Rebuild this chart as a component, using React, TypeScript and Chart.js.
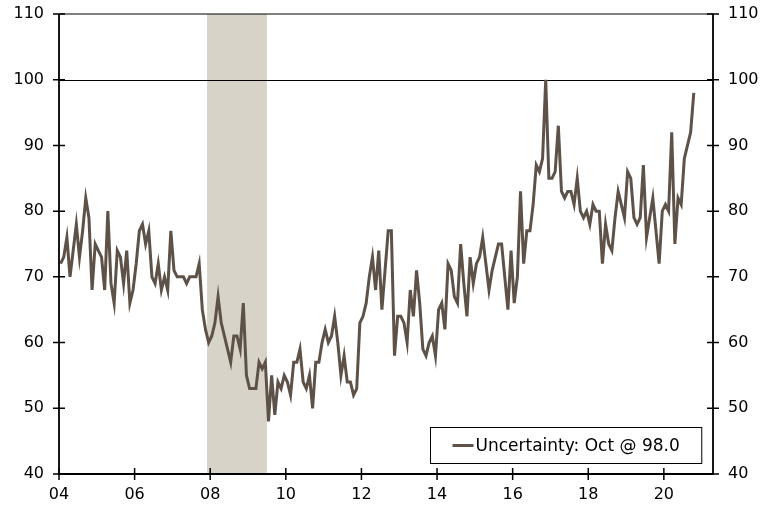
import { useEffect, useRef } from "react";
import { Chart, registerables } from "chart.js";

Chart.register(...registerables);

// ---- data ----
const startYear = 2004;
const seriesName = "Uncertainty: Oct @ 98.0";
const v2004 = [72, 73, 76, 70, 74, 78, 73, 77, 82, 79, 68, 75];
const v2005 = [74, 73, 68, 80, 69, 66, 74, 73, 69, 74, 66, 68];
const v2006 = [72, 77, 78, 75, 77, 70, 69, 72, 68, 70, 68, 77];
const v2007 = [71, 70, 70, 70, 69, 70, 70, 70, 72, 65, 62, 60];
const v2008 = [61, 63, 67, 63, 61, 59, 57, 61, 61, 59, 66, 55];
const v2009 = [53, 53, 53, 57, 56, 57, 48, 55, 49, 54, 53, 55];
const v2010 = [54, 52, 57, 57, 59, 54, 53, 55, 50, 57, 57, 60];
const v2011 = [62, 60, 61, 64, 60, 55, 58, 54, 54, 52, 53, 63];
const v2012 = [64, 66, 70, 73, 68, 74, 65, 71, 77, 77, 58, 64];
const v2013 = [64, 63, 60, 68, 64, 71, 66, 59, 58, 60, 61, 58];
const v2014 = [65, 66, 62, 72, 71, 67, 66, 75, 69, 64, 73, 69];
const v2015 = [72, 73, 76, 72, 68, 71, 73, 75, 75, 70, 65, 74];
const v2016 = [66, 70, 83, 72, 77, 77, 81, 87, 86, 88, 100, 85];
const v2017 = [85, 86, 93, 83, 82, 83, 83, 81, 85, 80, 79, 80];
const v2018 = [78, 81, 80, 80, 72, 78, 75, 74, 79, 83, 81, 79];
const v2019 = [86, 85, 79, 78, 79, 87, 76, 79, 82, 77, 72, 80];
const v2020 = [81, 80, 92, 75, 82, 81, 88, 90, 92, 98];

const xTickYears = [2004, 2006, 2008, 2010, 2012, 2014, 2016, 2018, 2020];
const xTickLabels = ["04", "06", "08", "10", "12", "14", "16", "18", "20"];
const yTicks = [40, 50, 60, 70, 80, 90, 100, 110];
const recessionStart = 2007 + 11 / 12;
const recessionEnd = 2009.5;
const referenceLevel = 100;
const xMax = 2021.3;

const allValues = [
  ...v2004, ...v2005, ...v2006, ...v2007, ...v2008, ...v2009, ...v2010, ...v2011,
  ...v2012, ...v2013, ...v2014, ...v2015, ...v2016, ...v2017, ...v2018, ...v2019, ...v2020,
];
const points = allValues.map((v, i) => ({ x: startYear + (i + 0.5) / 12, y: v }));

const LINE_COLOR = "#5e5248";
const FONT = "'DejaVu Sans', sans-serif";

const framePlugin = {
  id: "framePlugin",
  beforeDatasetsDraw(chart: any) {
    const { ctx, chartArea, scales } = chart;
    const { left, right, top, bottom } = chartArea;
    const x = scales.x;
    const y = scales.y;
    ctx.save();
    const x0 = x.getPixelForValue(recessionStart);
    const x1 = x.getPixelForValue(recessionEnd);
    ctx.fillStyle = "#d7d3c8";
    ctx.fillRect(x0, top, x1 - x0, bottom - top);
    const y100 = Math.round(y.getPixelForValue(referenceLevel)) + 0.5;
    ctx.strokeStyle = "#000";
    ctx.lineWidth = 1.2;
    ctx.beginPath();
    ctx.moveTo(left, y100);
    ctx.lineTo(right, y100);
    ctx.stroke();
    ctx.restore();
  },
  afterDatasetsDraw(chart: any) {
    const { ctx, chartArea, scales } = chart;
    const { left, right, top, bottom } = chartArea;
    const x = scales.x;
    const y = scales.y;
    ctx.save();
    ctx.strokeStyle = "#000";
    // top line
    ctx.lineWidth = 1.2;
    ctx.beginPath();
    ctx.moveTo(left, top);
    ctx.lineTo(right, top);
    ctx.stroke();
    // axes
    ctx.lineWidth = 1.8;
    ctx.beginPath();
    ctx.moveTo(left, top);
    ctx.lineTo(left, bottom);
    ctx.lineTo(right, bottom);
    ctx.lineTo(right, top);
    ctx.stroke();
    // ticks (crossing the axes)
    ctx.lineWidth = 1.5;
    ctx.beginPath();
    for (const t of yTicks) {
      const py = y.getPixelForValue(t);
      ctx.moveTo(left - 6, py);
      ctx.lineTo(left + 6, py);
      ctx.moveTo(right - 6, py);
      ctx.lineTo(right + 6, py);
    }
    for (const t of xTickYears) {
      const px = x.getPixelForValue(t);
      ctx.moveTo(px, bottom - 6);
      ctx.lineTo(px, bottom + 6);
    }
    ctx.stroke();

    // legend box
    ctx.font = `17px ${FONT}`;
    const tw = ctx.measureText(seriesName).width;
    const padL = 22;
    const iconW = 21;
    const gap = 2;
    const padR = 22;
    const boxW = padL + iconW + gap + tw + padR;
    const boxH = 36;
    const bx = Math.round(right - 12 - boxW) + 0.5;
    const by = Math.round(bottom - 11 - boxH) + 0.5;
    ctx.fillStyle = "#fff";
    ctx.fillRect(bx, by, boxW, boxH);
    ctx.lineWidth = 1;
    ctx.strokeRect(bx, by, boxW, boxH);
    const cy = by + boxH / 2;
    ctx.strokeStyle = LINE_COLOR;
    ctx.lineWidth = 3;
    ctx.beginPath();
    ctx.moveTo(bx + padL, cy);
    ctx.lineTo(bx + padL + iconW, cy);
    ctx.stroke();
    ctx.fillStyle = "#000";
    ctx.textBaseline = "middle";
    ctx.textAlign = "left";
    ctx.fillText(seriesName, bx + padL + iconW + gap, cy + 1);
    ctx.restore();
  },
};

export default function App() {
  const ref = useRef<HTMLCanvasElement | null>(null);
  useEffect(() => {
    if (!ref.current) return;
    const tickFont = { family: FONT, size: 16 };
    const fitY = (w: number) => (scale: any) => {
      scale.width = w;
      scale.paddingTop = 0;
      scale.paddingBottom = 0;
    };
    const chart = new Chart(ref.current, {
      type: "line",
      data: {
        datasets: [
          {
            label: seriesName,
            data: points,
            borderColor: LINE_COLOR,
            borderWidth: 3,
            pointRadius: 0,
            tension: 0,
            fill: false,
          },
        ],
      },
      options: {
        animation: false,
        responsive: true,
        maintainAspectRatio: false,
        layout: { padding: { top: 14, left: 0, right: 0, bottom: 0 } },
        plugins: { legend: { display: false }, tooltip: { enabled: false } },
        scales: {
          x: {
            type: "linear",
            min: startYear,
            max: xMax,
            grid: { display: false, drawTicks: false, tickLength: 0 },
            border: { display: false },
            afterBuildTicks: (scale: any) => {
              scale.ticks = xTickYears.map((v) => ({ value: v }));
            },
            afterFit: (scale: any) => {
              scale.height = 34;
              scale.paddingLeft = 0;
              scale.paddingRight = 0;
            },
            ticks: {
              autoSkip: false,
              maxRotation: 0,
              padding: 11,
              color: "#000",
              font: tickFont,
              callback: (v: any) => {
                const idx = xTickYears.indexOf(Number(v));
                return idx >= 0 ? xTickLabels[idx] : "";
              },
            },
          },
          y: {
            position: "left",
            min: 40,
            max: 110,
            grid: { display: false, drawTicks: false, tickLength: 0 },
            border: { display: false },
            afterFit: fitY(59),
            ticks: { stepSize: 10, padding: 15, color: "#000", font: tickFont },
          },
          y2: {
            position: "right",
            min: 40,
            max: 110,
            grid: { display: false, drawTicks: false, tickLength: 0 },
            border: { display: false },
            afterFit: fitY(60),
            ticks: { stepSize: 10, padding: 15, color: "#000", font: tickFont },
          },
        },
      },
      plugins: [framePlugin],
    });
    return () => chart.destroy();
  }, []);
  return (
    <div style={{ position: "absolute", left: 0, top: 0, width: 773, height: 508 }}>
      <canvas ref={ref} />
    </div>
  );
}
